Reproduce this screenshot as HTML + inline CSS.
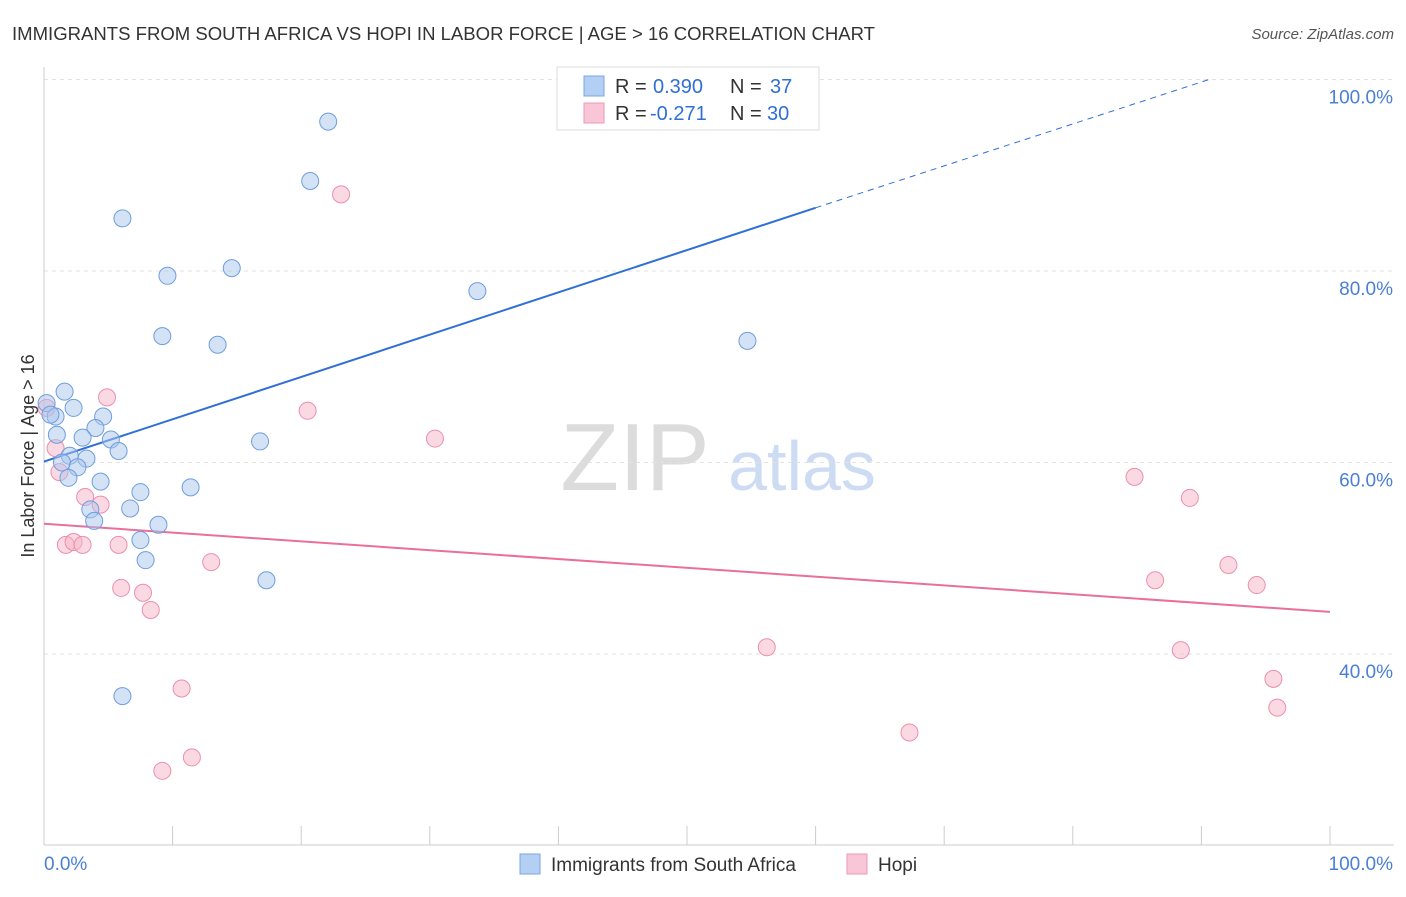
<!DOCTYPE html>
<html><head><meta charset="utf-8"><style>
body{margin:0;background:#fff;font-family:"Liberation Sans",sans-serif;}
svg text{font-family:"Liberation Sans",sans-serif;}
</style></head><body>
<svg id="chart" width="1406" height="892" xmlns="http://www.w3.org/2000/svg">
<text x="12" y="40" font-size="18" fill="#333" textLength="863" lengthAdjust="spacingAndGlyphs">IMMIGRANTS FROM SOUTH AFRICA VS HOPI IN LABOR FORCE | AGE &gt; 16 CORRELATION CHART</text>
<text x="1394" y="39" font-size="15" fill="#555" text-anchor="end" font-style="italic">Source: ZipAtlas.com</text>
<text transform="translate(34,456) rotate(-90)" font-size="18" fill="#333" text-anchor="middle">In Labor Force | Age &gt; 16</text>
<g>
<text x="635" y="490" font-size="96" fill="#dcdcdc" text-anchor="middle" font-family="Liberation Serif">ZIP</text>
<text x="802" y="490" font-size="70" fill="#cddcf3" text-anchor="middle">atlas</text>
</g>
<g id="grid"></g><g id="axes"></g><g id="trends"></g><g id="points"></g>
<g>
<rect x="557" y="67" width="262" height="63" fill="#fff" stroke="#ddd"/>
<rect x="584" y="76" width="20" height="20" fill="#b3cff3" stroke="#7aa6e0"/>
<text x="615" y="93" font-size="20" fill="#333">R =</text>
<text x="653" y="93" font-size="20" fill="#2f6fd6">0.390</text>
<text x="730" y="93" font-size="20" fill="#333">N =</text>
<text x="770" y="93" font-size="20" fill="#2f6fd6">37</text>
<rect x="584" y="103" width="20" height="20" fill="#f8c6d6" stroke="#eb9ab5"/>
<text x="615" y="120" font-size="20" fill="#333">R =</text>
<text x="650" y="120" font-size="20" fill="#2f6fd6">-0.271</text>
<text x="730" y="120" font-size="20" fill="#333">N =</text>
<text x="767" y="120" font-size="20" fill="#2f6fd6">30</text>
</g>
<g>
<rect x="520" y="854" width="20" height="20" fill="#b3cff3" stroke="#7aa6e0"/>
<text x="551" y="871" font-size="19" fill="#333">Immigrants from South Africa</text>
<rect x="847" y="854" width="20" height="20" fill="#f8c6d6" stroke="#eb9ab5"/>
<text x="878" y="871" font-size="19" fill="#333">Hopi</text>
</g>
</svg>
<script>
const blueX=[22.1,20.7,6.1,9.6,14.6,33.7,9.2,13.5,54.7,1.6,0.2,0.9,2.3,4.6,1.0,4.0,3.0,5.2,5.8,16.8,2.0,3.3,1.4,2.6,1.9,4.4,7.5,11.4,3.6,6.7,3.9,8.9,7.5,7.9,17.3,6.1,0.5];
const blueY=[95.6,89.4,85.5,79.5,80.3,77.9,73.2,72.3,72.7,67.4,66.2,64.8,65.7,64.8,62.9,63.6,62.6,62.4,61.2,62.2,60.7,60.4,60.0,59.5,58.4,58.0,56.9,57.4,55.1,55.2,53.9,53.5,51.9,49.8,47.7,35.6,65.0];
const pinkX=[23.1,4.9,20.5,30.4,0.9,1.2,3.2,4.4,84.8,89.1,1.7,2.3,3.0,5.8,13.0,86.4,92.1,94.3,6.0,7.7,8.3,56.2,88.4,10.7,95.6,95.9,67.3,11.5,9.2,0.2];
const pinkY=[88.0,66.8,65.4,62.5,61.5,59.0,56.4,55.6,58.5,56.3,51.4,51.7,51.4,51.4,49.6,47.7,49.3,47.2,46.9,46.4,44.6,40.7,40.4,36.4,37.4,34.4,31.8,29.2,27.8,65.7];
const blueTrendX=[0,60,90.6];
const blueTrendY=[60.1,86.6,100];
const pinkTrendX=[0,100];
const pinkTrendY=[53.6,44.4];
const yTicks=[40,60,80,100];
const xTickLabels=["0.0%","100.0%"];

const NS="http://www.w3.org/2000/svg";
const X0=44,X1=1330,Y100=79.5,PX20=191.5;
const sx=v=>X0+(X1-X0)*v/100;
const sy=v=>Y100+(100-v)*PX20/20;
function mk(tag,attrs,parent){const e=document.createElementNS(NS,tag);for(const k in attrs)e.setAttribute(k,attrs[k]);parent.appendChild(e);return e;}
const grid=document.getElementById('grid'),axes=document.getElementById('axes'),tr=document.getElementById('trends'),pts=document.getElementById('points');
yTicks.forEach(t=>{
  const l=mk('line',{x1:X0,x2:1394,y1:sy(t),y2:sy(t),stroke:'#e2e2e2','stroke-dasharray':'4,4'},grid);
  
  
  const tx=mk('text',{x:1393,y:sy(t)+24,'font-size':19,fill:'#4a7fd4','text-anchor':'end'},axes);
  tx.textContent=t.toFixed(1)+'%';
  
  
});
const ax=mk('line',{x1:X0,x2:1394,y1:845,y2:845,stroke:'#ccc'},axes);


const ay=mk('line',{x1:X0,x2:X0,y1:67,y2:845,stroke:'#ccc'},axes);


for(let i=0;i<=10;i++){
  const t=mk('line',{x1:sx(i*10),x2:sx(i*10),y1:826,y2:845,stroke:'#ccc'},axes);
  
  
}
const xl0=mk('text',{x:X0,y:870,'font-size':19,fill:'#4a7fd4'},axes);xl0.textContent=xTickLabels[0];


const xl1=mk('text',{x:1393,y:870,'font-size':19,fill:'#4a7fd4','text-anchor':'end'},axes);xl1.textContent=xTickLabels[1];



function dots(xs,ys,fill,stroke,name){
  xs.forEach((x,i)=>{
    const c=mk('circle',{cx:sx(x),cy:sy(ys[i]),r:8.5,fill:fill,'fill-opacity':0.5,stroke:stroke,'stroke-width':1},pts);
    
    
  });
}
dots(pinkX,pinkY,'#f5b3c8','#eb8fae','hopi');
dots(blueX,blueY,'#a9c6ee','#6f9edc','south-africa');

const bl=mk('line',{x1:sx(blueTrendX[0]),y1:sy(blueTrendY[0]),x2:sx(blueTrendX[1]),y2:sy(blueTrendY[1]),stroke:'#2f6fd6','stroke-width':2},tr);


const bd=mk('line',{x1:sx(blueTrendX[1]),y1:sy(blueTrendY[1]),x2:sx(blueTrendX[2]),y2:sy(blueTrendY[2]),stroke:'#2f6fd6','stroke-width':1,'stroke-dasharray':'6,5'},tr);


const pl=mk('line',{x1:sx(pinkTrendX[0]),y1:sy(pinkTrendY[0]),x2:sx(pinkTrendX[1]),y2:sy(pinkTrendY[1]),stroke:'#e8709a','stroke-width':2},tr);


</script>
</body></html>
